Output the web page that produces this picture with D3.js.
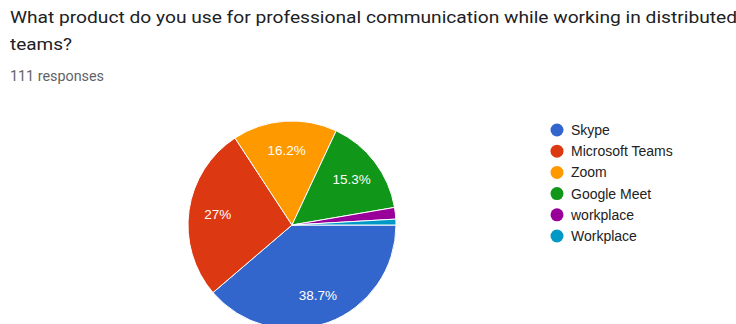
<!DOCTYPE html>
<html>
<head>
<meta charset="utf-8">
<script src="https://cdn.jsdelivr.net/npm/d3@7"></script>
<style>
  body { margin: 0; background: #fff; overflow: hidden; }
  svg { display: block; }
</style>
</head>
<body>
<script>
const categories = ['Skype', 'Microsoft Teams', 'Zoom', 'Google Meet', 'workplace', 'Workplace'];
const counts = [43, 30, 18, 17, 2, 1];
const sliceLabels = ['38.7%', '27%', '16.2%', '15.3%', '', ''];
const colors = ['#3366cc', '#dc3912', '#ff9900', '#109618', '#990099', '#0099c6'];

const svgWidth = 736;
const svgHeight = 324;

const svg = d3.select('body')
.append('svg')
.attr('width', svgWidth)
.attr('height', svgHeight)

// header, stretched a little to match the screenshot's wide face
const header = [
    {text: 'What product do you use for professional communication while working in distributed', y: 23, size: 16, len: 727, fill: '#202124'},
    {text: 'teams?', y: 50, size: 16, len: 62, fill: '#202124'},
    {text: '111 responses', y: 81, size: 14, len: 94, fill: '#5f6368'}
]

svg.selectAll('.header')
.data(header).enter()
.append('text')
.attr('class', 'header')
.attr('x', 10)
.attr('y', (d) => d.y)
.attr('font-family', 'Roboto, Arial, sans-serif')
.attr('font-size', (d) => d.size)
.attr('textLength', (d) => d.len)
.attr('lengthAdjust', 'spacingAndGlyphs')
.attr('fill', (d) => d.fill)
.text((d) => d.text)

// pie
const cx = 292, cy = 225, radius = 104;
const data = categories.map((c, i) => ({name: c, value: counts[i], label: sliceLabels[i], color: colors[i]}));

const pie = d3.pie()
.value((d) => d.value)
.sort(null)
.startAngle(Math.PI / 2)
.endAngle(Math.PI / 2 + 2 * Math.PI)

const arc = d3.arc().innerRadius(0).outerRadius(radius);
const labelArc = d3.arc().innerRadius(radius * 0.72).outerRadius(radius * 0.72);

const pieGroup = svg.append('g')
.attr('transform', `translate(${cx}, ${cy})`)

const arcs = pie(data);

pieGroup.selectAll('path')
.data(arcs).enter()
.append('path')
.attr('d', arc)
.attr('fill', (d) => d.data.color)
.attr('stroke', '#fff')
.attr('stroke-width', 1)

pieGroup.selectAll('text')
.data(arcs).enter()
.append('text')
.attr('transform', (d) => `translate(${labelArc.centroid(d)})`)
.attr('text-anchor', 'middle')
.attr('dy', '0.35em')
.attr('font-family', 'Arial, Liberation Sans, sans-serif')
.attr('font-size', 13.5)
.attr('fill', '#fff')
.text((d) => d.data.label)

// legend
const legendY = d3.scalePoint()
.domain(categories)
.range([130, 236])

const legend = svg.append('g')
.selectAll('g')
.data(data).enter()
.append('g')
.attr('transform', (d) => `translate(557, ${legendY(d.name)})`)

legend.append('circle')
.attr('r', 6.5)
.attr('fill', (d) => d.color)

legend.append('text')
.attr('x', 14)
.attr('dy', '0.35em')
.attr('font-family', 'Arial, Liberation Sans, sans-serif')
.attr('font-size', 14)
.attr('fill', '#222')
.text((d) => d.name)
</script>
</body>
</html>
